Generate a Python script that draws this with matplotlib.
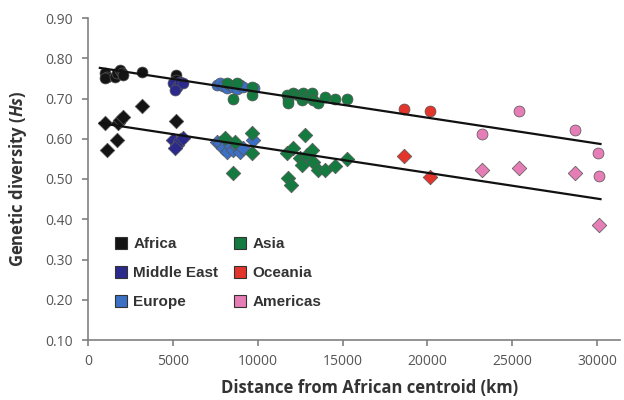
import matplotlib
matplotlib.use("Agg")
import matplotlib.pyplot as plt
from matplotlib.lines import Line2D
import numpy as np

plt.rcParams['font.family'] = ['Open Sans', 'DejaVu Sans']
plt.rcParams['mathtext.fontset'] = 'custom'
plt.rcParams['mathtext.it'] = 'Open Sans:italic:bold'
plt.rcParams['mathtext.rm'] = 'Open Sans:bold'

# ---------------- data ----------------
regions = ["Africa", "Middle East", "Europe", "Asia", "Oceania", "Americas"]
colors = ["#141414", "#2B2A8C", "#3C70C4", "#157A40", "#E2352C", "#E57DB6"]

# upper group (circles)
africa_c_x = [1000, 1100, 1000, 1590, 1690, 1890, 1990, 2080, 3160, 5190, 5200]
africa_c_y = [0.763, 0.754, 0.750, 0.754, 0.763, 0.771, 0.763, 0.758, 0.765, 0.758, 0.746]
mideast_c_x = [5030, 5230, 5420, 5620, 5130]
mideast_c_y = [0.738, 0.729, 0.742, 0.738, 0.721]
europe_c_x = [7580, 7780, 7970, 8170, 8370, 8560, 8760, 8960, 9150, 9800]
europe_c_y = [0.734, 0.738, 0.731, 0.725, 0.734, 0.729, 0.723, 0.734, 0.729, 0.725]
asia_c_x = [8560, 9650, 9650, 8170, 8760, 11710, 11800, 11800, 12100, 12390, 12590,
            12690, 12890, 13180, 13280, 13570, 13970, 14560, 15240]
asia_c_y = [0.700, 0.729, 0.709, 0.738, 0.738, 0.709, 0.696, 0.688, 0.713, 0.709, 0.696,
            0.713, 0.704, 0.713, 0.696, 0.688, 0.704, 0.700, 0.700]
oceania_c_x = [18620, 20150]
oceania_c_y = [0.673, 0.670]
americas_c_x = [25400, 23240, 28700, 30070, 30110]
americas_c_y = [0.670, 0.611, 0.622, 0.564, 0.508]

# lower group (diamonds)
africa_d_x = [3160, 1000, 1100, 1690, 1790, 1890, 2080, 5190]
africa_d_y = [0.681, 0.638, 0.572, 0.597, 0.638, 0.647, 0.653, 0.644]
mideast_d_x = [5030, 5230, 5420, 5620, 5130]
mideast_d_y = [0.597, 0.584, 0.597, 0.601, 0.576]
europe_d_x = [7580, 7780, 7970, 8170, 8370, 8560, 8760, 8960, 9150, 9740]
europe_d_y = [0.593, 0.589, 0.576, 0.568, 0.584, 0.572, 0.580, 0.568, 0.576, 0.597]
asia_d_x = [8070, 8660, 8560, 9650, 9650, 12790, 11710, 12100, 12490, 12590, 12890,
            13180, 13280, 13570, 13970, 14560, 15240, 11800, 11940]
asia_d_y = [0.601, 0.593, 0.516, 0.615, 0.564, 0.609, 0.564, 0.576, 0.551, 0.535, 0.560,
            0.572, 0.543, 0.522, 0.522, 0.532, 0.549, 0.502, 0.485]
oceania_d_x = [18620, 20150]
oceania_d_y = [0.557, 0.506]
americas_d_x = [23240, 25420, 28700, 30110]
americas_d_y = [0.522, 0.528, 0.514, 0.386]

# regression lines (end points)
fit_x = [700, 30200]
fit_upper_y = [0.776, 0.587]
fit_lower_y = [0.639, 0.450]

yticks = [0.10, 0.20, 0.30, 0.40, 0.50, 0.60, 0.70, 0.80, 0.90]
xticks = [0, 5000, 10000, 15000, 20000, 25000, 30000]

circles = [(africa_c_x, africa_c_y), (mideast_c_x, mideast_c_y), (europe_c_x, europe_c_y),
           (asia_c_x, asia_c_y), (oceania_c_x, oceania_c_y), (americas_c_x, americas_c_y)]
diamonds = [(africa_d_x, africa_d_y), (mideast_d_x, mideast_d_y), (europe_d_x, europe_d_y),
            (asia_d_x, asia_d_y), (oceania_d_x, oceania_d_y), (americas_d_x, americas_d_y)]

# ---------------- figure ----------------
fig = plt.figure(figsize=(6.24, 4.0), dpi=100)
ax = fig.add_axes([88/624, 60/400, 532/624, 322/400])

edge = "#555555"
for (x, y), c in zip(circles, colors):
    ax.scatter(x, y, s=62, marker='o', color=c, edgecolor=edge, linewidth=0.5, zorder=3)
for (x, y), c in zip(diamonds, colors):
    ax.scatter(x, y, s=55, marker='D', color=c, edgecolor=edge, linewidth=0.5, zorder=3)

ax.plot(fit_x, fit_upper_y, color="#111111", lw=1.6, zorder=4)
ax.plot(fit_x, fit_lower_y, color="#111111", lw=1.6, zorder=4)

ax.set_xlim(0, 31350)
ax.set_ylim(0.10, 0.90)
ax.set_xticks(xticks)
ax.set_yticks(yticks)
ax.set_yticklabels([f"{v:.2f}" for v in yticks])
ax.set_xticklabels([str(v) for v in xticks])

for s in ["top", "right"]:
    ax.spines[s].set_visible(False)
for s in ["left", "bottom"]:
    ax.spines[s].set_color("#808080")
    ax.spines[s].set_linewidth(1.2)
ax.tick_params(axis='both', colors="#808080", length=4, width=1.2, direction='out',
               labelcolor="#555555", labelsize=10)
ax.tick_params(axis='x', pad=6)
ax.tick_params(axis='y', pad=7)

ax.set_xlabel("Distance from African centroid (km)", fontsize=12, fontweight='bold',
              color="#333333")
ax.xaxis.set_label_coords(0.53, -0.12)
ax.set_ylabel(r"Genetic diversity ($Hs$)", fontsize=12, fontweight='bold', color="#333333")
ax.yaxis.set_label_coords(-0.11, 0.5)

handles = [Line2D([], [], marker='s', linestyle='none', markersize=9, markerfacecolor=c,
                  markeredgecolor="#333333", markeredgewidth=0.8) for c in colors]
leg = ax.legend(handles, regions, ncol=2, loc='upper left', bbox_to_anchor=(0.022, 0.362),
                frameon=False, prop={'family': 'Liberation Sans', 'weight': 'bold', 'size': 11},
                labelspacing=0.98, columnspacing=0.95, handletextpad=0.3, handlelength=1.0)
for t in leg.get_texts():
    t.set_color("#333333")

fig.savefig("out.png", dpi=100)
